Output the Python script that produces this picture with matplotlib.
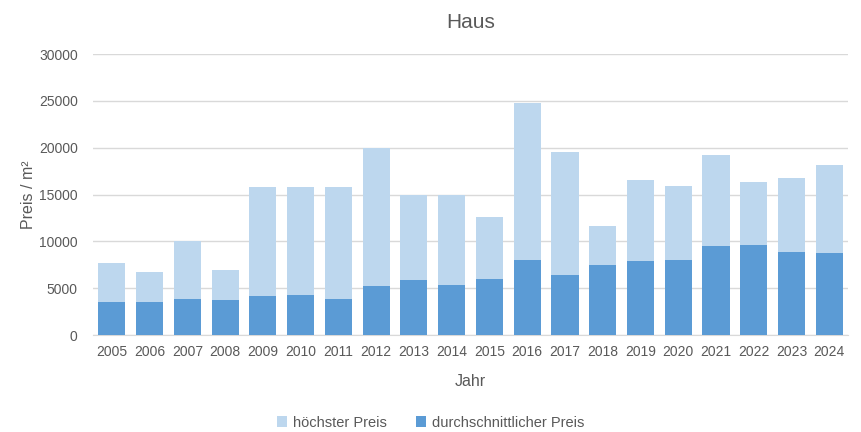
import matplotlib.pyplot as plt
import numpy as np

plt.rcParams['font.family'] = ['Liberation Sans', 'DejaVu Sans']

# data
jahre = ['2005', '2006', '2007', '2008', '2009', '2010', '2011', '2012', '2013', '2014',
         '2015', '2016', '2017', '2018', '2019', '2020', '2021', '2022', '2023', '2024']
hoechster = [7700, 6700, 10000, 6950, 15800, 15800, 15800, 20000, 14930, 14930,
             12610, 24800, 19560, 11650, 16570, 15920, 19240, 16350, 16780, 18170]
durchschnitt = [3530, 3530, 3850, 3740, 4170, 4280, 3850, 5240, 5880, 5340,
                5990, 8020, 6410, 7480, 7910, 8020, 9510, 9620, 8870, 8760]

light = '#BDD7EE'
dark = '#5B9BD5'
grey = '#595959'

fig = plt.figure(figsize=(8.61, 4.32), dpi=100)
ax = fig.add_axes([0.108, 0.2245, 0.877, 0.6505])

x = np.arange(len(jahre))
ax.bar(x, hoechster, width=0.72, color=light, label='höchster Preis', zorder=2)
ax.bar(x, durchschnitt, width=0.72, color=dark, label='durchschnittlicher Preis', zorder=3)

ax.set_xlim(-0.5, len(jahre) - 0.5)
ax.set_ylim(0, 30000)
ax.set_yticks(range(0, 30001, 5000))
ax.set_xticks(x)
ax.set_xticklabels(jahre)
ax.grid(axis='y', color='#D9D9D9', linewidth=1, zorder=0)
for s in ['top', 'right', 'left']:
    ax.spines[s].set_visible(False)
ax.spines['bottom'].set_color('#D9D9D9')
ax.tick_params(axis='both', length=0, labelsize=10, colors=grey)
ax.tick_params(axis='y', pad=11)
ax.tick_params(axis='x', pad=7)

ax.set_title('Haus', fontsize=15, color=grey, pad=19)
ax.set_xlabel('Jahr', fontsize=11.5, color=grey, labelpad=11)
ax.set_ylabel('Preis / m²', fontsize=11.5, color=grey, labelpad=2)

fig.legend(loc='lower center', bbox_to_anchor=(0.5, -0.025), ncol=2, frameon=False,
           fontsize=10.5, labelcolor=grey, handlelength=0.7, handleheight=0.7,
           columnspacing=2.0, handletextpad=0.4)

plt.savefig('out.png', dpi=100)
